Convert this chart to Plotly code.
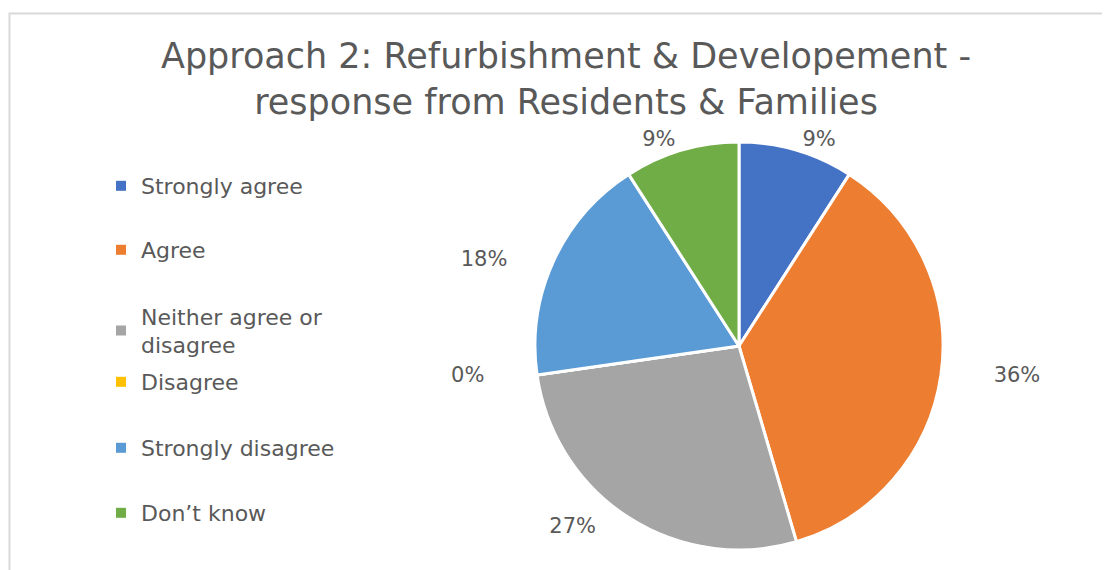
import plotly.graph_objects as go

categories = ["Strongly agree", "Agree", "Neither agree or<br>disagree", "Disagree", "Strongly disagree", "Don\u2019t know"]
counts = [1, 4, 3, 0, 2, 1]
colors = ["#4472C4", "#ED7D31", "#A5A5A5", "#FFC000", "#5B9BD5", "#70AD47"]
title_lines = ["Approach 2: Refurbishment & Developement -", "response from Residents & Families"]

W, H = 1110, 570
OFF = 8  # page body margin
cx, cy, r = 739 - OFF, 346 - OFF, 204
FONT = "DejaVu Sans"
GREY = "#595959"

NB = "\u00a0"
pad_before = [0, 7, 0, 0, 0, 0]
pad_after = [0, 0, 4, 7, 6, 0]
templates = [NB * b + "%{percent:.0%}" + NB * a for b, a in zip(pad_before, pad_after)]

fig = go.Figure()
fig.add_trace(go.Pie(
    labels=categories, values=counts, sort=False, direction="clockwise", rotation=0,
    marker=dict(colors=colors, line=dict(color="white", width=3)),
    texttemplate=templates, textposition="outside",
    textfont=dict(family=FONT, size=21, color=GREY),
    showlegend=False, hoverinfo="label+percent",
    domain=dict(x=[(cx - r) / W, (cx + r) / W], y=[(H - cy - r) / H, (H - cy + r) / H]),
))

legend_y = [186, 250, 331, 382, 448, 513]
for i, (name, col) in enumerate(zip(categories, colors)):
    key = "legend" if i == 0 else f"legend{i+1}"
    fig.add_trace(go.Scatter(
        x=[None], y=[None], mode="markers", name=name,
        marker=dict(symbol="square", size=10, color=col),
        legend=key, showlegend=True,
    ))
    fig.update_layout(**{key: dict(
        x=93 / W, y=1 - (legend_y[i] - OFF) / H, xanchor="left", yanchor="middle",
        bgcolor="rgba(0,0,0,0)", font=dict(family=FONT, size=22, color=GREY),
        itemsizing="trace",
    )})

fig.update_layout(
    width=W, height=H,
    margin=dict(l=0, r=0, t=0, b=0),
    paper_bgcolor="white", plot_bgcolor="white",
    xaxis=dict(visible=False), yaxis=dict(visible=False),
    title=dict(text="<br>".join(title_lines), x=(566 - OFF) / W, xanchor="center",
               y=1 - 60 / H, yanchor="top", yref="container",
               font=dict(family=FONT, size=35, color=GREY)),
    shapes=[dict(type="rect", xref="paper", yref="paper", x0=(9.5 - OFF) / W, x1=1.05,
                 y0=-0.05, y1=1 - (13.5 - OFF) / H, line=dict(color="#D9D9D9", width=2))],
)

fig.write_html("out.html")
